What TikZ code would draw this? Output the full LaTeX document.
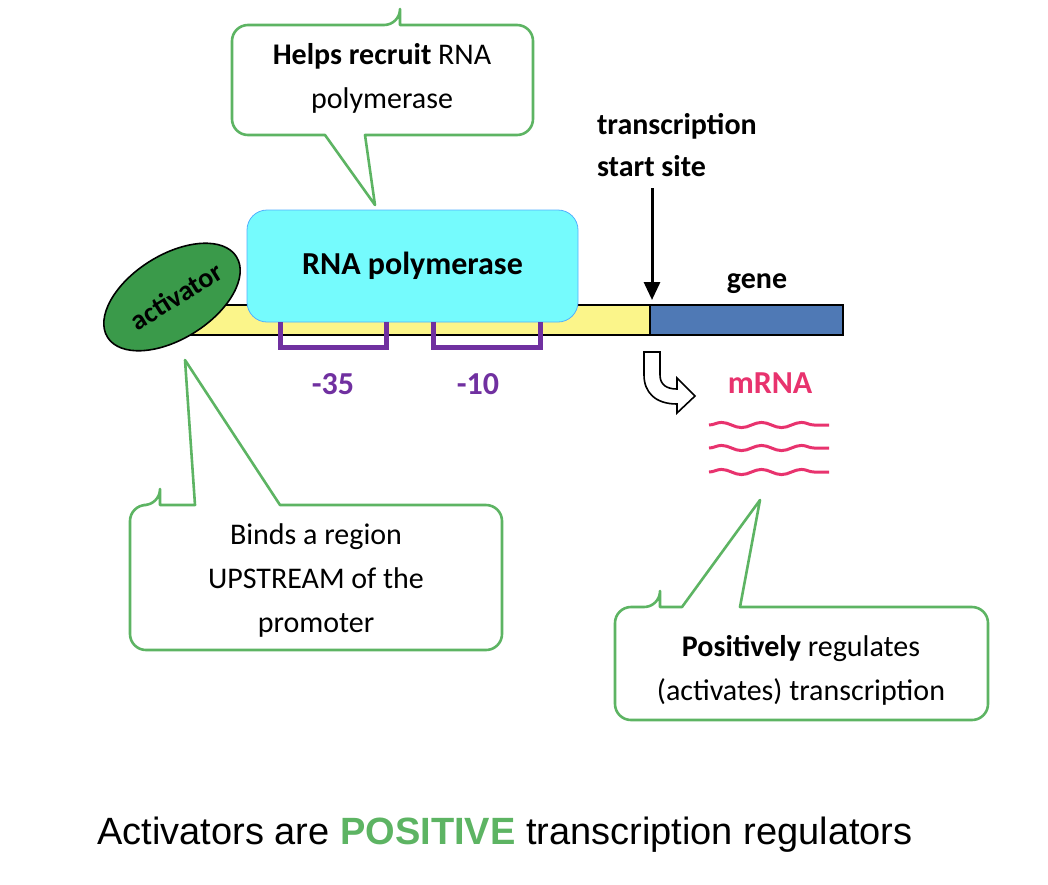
\documentclass[tikz,border=0pt]{standalone}
\usepackage{fontspec}
\setmainfont{Carlito}
\newfontfamily\arialf{Liberation Sans}
\usetikzlibrary{decorations.pathmorphing,arrows.meta,shapes.geometric}
\definecolor{cg}{HTML}{5DB463}
\definecolor{act}{HTML}{3A9A4A}
\definecolor{pur}{HTML}{7030A0}
\definecolor{pk}{HTML}{E8336E}
\definecolor{cy}{HTML}{75FBFD}
\definecolor{gb}{HTML}{4F79B5}
\definecolor{yl}{HTML}{FBF58A}
\tikzset{
 call/.style={draw=cg,line width=1.3pt,fill=white,line join=round},
 txt/.style={font=\fontsize{15}{22}\selectfont,align=center},
 br/.style={draw=pur,line width=2.5pt},
 wave/.style={draw=pk,line width=1.5pt,decorate,decoration={snake,amplitude=1.3pt,segment length=20pt}}
}
\begin{document}
\begin{tikzpicture}[x=0.5pt,y=-0.5pt]
\useasboundingbox (0,0) rectangle (1048,884);
% top callout
\path[call] (400,25) [rounded corners=8pt] -- (533,25) -- (533,135) [sharp corners] -- (365,135) -- (375,205) -- (325,135) [rounded corners=8pt] -- (232,135) -- (232,25) -- (400,25) [sharp corners] -- cycle;
\node[txt] (t1) at (382,78) {\textbf{Helps recruit} RNA\\polymerase};
% DNA
\draw[fill=yl,line width=1.3pt] (165,305) rectangle (650,335);
\draw[fill=gb,line width=1.3pt] (650,305) rectangle (843,335);
% polymerase
\node[draw=cy!70!blue,fill=cy,rounded corners=10pt,minimum width=165.5pt,minimum height=56pt,font=\fontsize{16}{18}\selectfont\bfseries] (pol) at (412.5,266) {RNA polymerase};
% activator
\node[ellipse,draw=black,fill=act,minimum width=42pt,minimum height=76pt,rotate=-58,line width=0.8pt] (act) at (172,297) {};
\node[rotate=32,font=\fontsize{14}{15}\selectfont\bfseries] (actt) at (176,296) {activator};
% brackets
\draw[br] (280,322) -- (280,347) -- (386,347) -- (386,322);
\draw[br] (433,322) -- (433,347) -- (540,347) -- (540,322);
\node[text=pur,font=\fontsize{16}{18}\selectfont\bfseries] (m35) at (333,384) {-35};
\node[text=pur,font=\fontsize{16}{18}\selectfont\bfseries] (m10) at (478,384) {-10};
% tss
\node[font=\fontsize{15}{21}\selectfont\bfseries,align=left,anchor=west] (tss) at (590,145) {transcription\\start site};
\coordinate (tssb) at (652,300);
\draw[-{Triangle[length=9pt,width=8pt]},line width=1.5pt] (652,188) -- (tssb);
\node[font=\fontsize{15}{17}\selectfont\bfseries] (gene) at (757,284) {gene};
% bent arrow
\draw[line width=0.8pt,fill=white,line join=miter] (644,352) -- (660,352) -- (660,375) .. controls (660,385) and (667,389) .. (677,389) -- (677,378) -- (695,396) -- (677,413) -- (677,404) .. controls (655,404) and (644,392) .. (644,375) -- cycle;
\node[text=pk,font=\fontsize{16}{18}\selectfont\bfseries] (mrna) at (770,383) {mRNA};
\foreach \y in {425,448,472} \draw[wave] (709,\y) -- (829,\y);
% left callout
\path[call] (160,505) -- (195,505) -- (185,360) -- (280,505) [rounded corners=8pt] -- (502,505) -- (502,650) -- (130,650) -- (130,505) -- (160,505) [sharp corners] -- cycle;
\node[txt] (t2) at (316,580) {Binds a region\\UPSTREAM of the\\promoter};
% right callout
\path[call] (660,607) -- (682,607) -- (760,500) -- (740,607) [rounded corners=8pt] -- (988,607) -- (988,720) -- (615,720) -- (615,607) -- (660,607) [sharp corners] -- cycle;
\node[txt] (t3) at (801,670) {\textbf{Positively} regulates\\(activates) transcription};
% bottom
\node[font=\arialf\fontsize{19}{22}\selectfont] (bot) at (505,835) {Activators are \textcolor{cg}{\textbf{POSITIVE}} transcription regulators};
\end{tikzpicture}
\end{document}
